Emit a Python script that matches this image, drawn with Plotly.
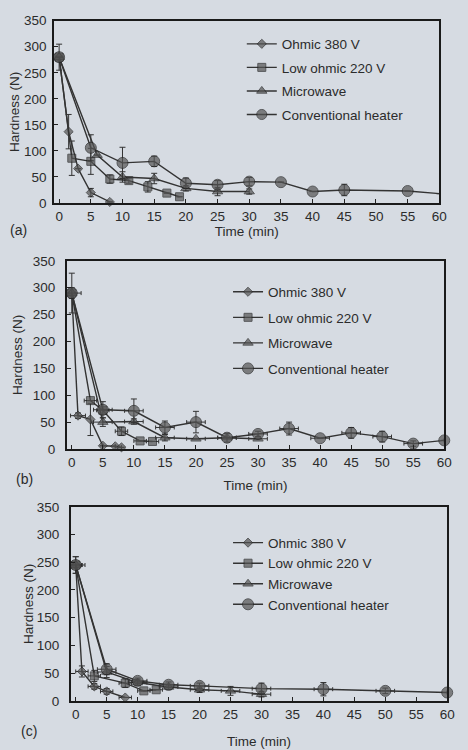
import plotly.graph_objects as go

# ---------------- Data ----------------
series_names = ["Ohmic 380 V", "Low ohmic 220 V", "Microwave", "Conventional heater"]
x_ticks = [0, 5, 10, 15, 20, 25, 30, 35, 40, 45, 50, 55, 60]
y_ticks = [0, 50, 100, 150, 200, 250, 300, 350]
panel_labels = ["(a)", "(b)", "(c)"]

# Panel (a)
a_ohmic_t = [0, 1.5, 3, 5, 8]
a_ohmic_y = [280, 137, 66, 20, 2]
a_ohmic_e = [25, 33, 0, 8, 0]
a_low_t = [0, 2, 5, 8, 11, 14, 17, 19]
a_low_y = [280, 86, 80, 46, 43, 31, 19, 12]
a_low_e = [0, 33, 25, 8, 5, 10, 0, 0]
a_mw_t = [0, 6, 10, 15, 20, 25, 30]
a_mw_y = [280, 92, 50, 47, 28, 22, 22]
a_mw_e = [0, 0, 10, 10, 5, 8, 5]
a_conv_t = [0, 5, 10, 15, 20, 25, 30, 35, 40, 45, 55, 60]
a_conv_y = [280, 106, 77, 80, 38, 35, 41, 40, 22, 25, 23, 18]
a_conv_e = [0, 25, 30, 10, 10, 8, 8, 0, 0, 11, 0, 0]

# Panel (b)
b_ohmic_t = [0, 1, 3, 5, 7, 8]
b_ohmic_y = [290, 62, 55, 6, 5, 3]
b_ohmic_e = [37, 5, 30, 0, 0, 0]
b_ohmic_ex = [0, 1.2, 0, 0, 0, 0]
b_low_t = [0, 3, 5, 8, 11, 13]
b_low_y = [290, 90, 72, 33, 15, 14]
b_low_e = [0, 0, 0, 8, 0, 0]
b_low_ex = [0, 1, 1, 1, 1, 1]
b_mw_t = [0, 5, 10, 15, 20, 25, 30]
b_mw_y = [290, 50, 51, 21, 19, 21, 19]
b_mw_e = [0, 8, 5, 6, 0, 0, 0]
b_mw_ex = [0, 1.5, 1.5, 1.5, 1.5, 1.5, 1.5]
b_conv_t = [0, 5, 10, 15, 20, 25, 30, 35, 40, 45, 50, 55, 60]
b_conv_y = [290, 73, 71, 40, 50, 21, 28, 38, 20, 30, 23, 10, 16]
b_conv_e = [10, 15, 22, 12, 20, 8, 5, 12, 0, 10, 10, 5, 0]
b_conv_ex = [1.5, 1.5, 1.5, 1.5, 1.5, 1.5, 1.5, 1.5, 1.5, 1.5, 1.5, 1.5, 0]

# Panel (c)
c_ohmic_t = [0, 1, 3, 5, 8]
c_ohmic_y = [245, 53, 26, 17, 6]
c_ohmic_e = [15, 10, 5, 5, 0]
c_ohmic_ex = [1, 1, 1, 1, 1]
c_low_t = [0, 3, 8, 11, 13]
c_low_y = [245, 45, 32, 18, 20]
c_low_e = [0, 10, 8, 0, 0]
c_low_ex = [1, 1, 1, 1, 1]
c_mw_t = [0, 5, 10, 15, 20, 25, 30]
c_mw_y = [245, 52, 33, 25, 20, 18, 12]
c_mw_e = [0, 10, 5, 5, 5, 8, 5]
c_mw_ex = [1.5, 1.5, 1.5, 1.5, 1.5, 1.5, 1.5]
c_conv_t = [0, 5, 10, 15, 20, 30, 40, 50, 60]
c_conv_y = [245, 57, 36, 29, 27, 22, 21, 18, 15]
c_conv_e = [15, 10, 5, 5, 5, 10, 12, 5, 0]
c_conv_ex = [1, 1.5, 1.5, 1.5, 1.5, 1.5, 1.5, 1.5, 0]

panels = [
    [(a_ohmic_t, a_ohmic_y, a_ohmic_e, None),
     (a_low_t, a_low_y, a_low_e, None),
     (a_mw_t, a_mw_y, a_mw_e, None),
     (a_conv_t, a_conv_y, a_conv_e, None)],
    [(b_ohmic_t, b_ohmic_y, b_ohmic_e, b_ohmic_ex),
     (b_low_t, b_low_y, b_low_e, b_low_ex),
     (b_mw_t, b_mw_y, b_mw_e, b_mw_ex),
     (b_conv_t, b_conv_y, b_conv_e, b_conv_ex)],
    [(c_ohmic_t, c_ohmic_y, c_ohmic_e, c_ohmic_ex),
     (c_low_t, c_low_y, c_low_e, c_low_ex),
     (c_mw_t, c_mw_y, c_mw_e, c_mw_ex),
     (c_conv_t, c_conv_y, c_conv_e, c_conv_ex)],
]

# ---------------- Layout geometry (pixels) ----------------
W, H = 468, 750
BG = "#d6dbe2"
INK = "#2b2b2b"
FONT = "Liberation Sans, Arial, sans-serif"
FS = 13.5

# plot area boxes: (left, right, top, bottom) in px
boxes = [(55, 447, 14, 200), (68, 452, 259, 451), (72, 455, 510, 708)]
legend_pos = [(246, 22, 3), (232, 275, 5), (232, 531, 0)]  # x, top, group gap
panel_label_pos = [(19, 228), (25, 482), (29, 739)]
ylab_standoff = [(3, 1), (7, 7), (7, 0)]   # (ticklabelstandoff, title standoff)
xtitle_standoff = [0, 12, 16]

symbols = ["diamond", "square", "triangle-up", "circle"]
sizes = [7, 8, 9, 11]

fig = go.Figure()

for p, series in enumerate(panels):
    xa = "x" if p == 0 else f"x{p+1}"
    ya = "y" if p == 0 else f"y{p+1}"
    lg = "legend" if p == 0 else f"legend{p+1}"
    for s, (t, y, e, ex) in enumerate(series):
        msize = [sizes[s]] * len(t)
        if p == 0 and s == 3:
            msize[-1] = 0
        tr = dict(
            x=t, y=y, mode="lines+markers", name=series_names[s],
            xaxis=xa, yaxis=ya, legend=lg, legendgroup=f"{p}-{s}",
            line=dict(color="#333333", width=1.4),
            marker=dict(symbol=symbols[s], size=msize, color="#555555",
                        line=dict(color="#222222", width=1)),
            error_y=dict(type="data", array=e, visible=True, color="#333333",
                         thickness=1, width=3),
            cliponaxis=False,
        )
        if ex is not None:
            tr["error_x"] = dict(type="data", array=ex, visible=True, color="#333333",
                                 thickness=1, width=2)
        fig.add_trace(go.Scatter(**tr))

layout = dict(
    width=W, height=H,
    margin=dict(l=0, r=0, t=0, b=0),
    paper_bgcolor=BG, plot_bgcolor=BG,
    font=dict(family=FONT, size=FS, color=INK),
    showlegend=True,
)

annotations = []
for p, (l, r, t, b) in enumerate(boxes):
    xk = "xaxis" if p == 0 else f"xaxis{p+1}"
    yk = "yaxis" if p == 0 else f"yaxis{p+1}"
    yref = "y" if p == 0 else f"y{p+1}"
    xref = "x" if p == 0 else f"x{p+1}"
    tls, tst = ylab_standoff[p]
    layout[xk] = dict(
        domain=[l / W, r / W], anchor=yref, range=[-0.8, 60],
        tickvals=x_ticks, ticktext=[str(v) for v in x_ticks],
        ticks="inside", ticklen=4, tickcolor="#222", tickwidth=1,
        showline=True, linecolor="#1a1a1a", linewidth=1.6, mirror=True,
        showgrid=False, zeroline=False,
        tickfont=dict(size=FS, color=INK),
        title=dict(text="Time (min)", font=dict(size=FS, color=INK),
                   standoff=xtitle_standoff[p]),
    )
    layout[yk] = dict(
        domain=[1 - b / H, 1 - t / H], anchor=xref, range=[0, 350],
        tickvals=y_ticks, ticks="inside", ticklen=4, tickcolor="#222", tickwidth=1,
        showline=True, linecolor="#1a1a1a", linewidth=1.6, mirror=True,
        showgrid=False, zeroline=False, ticklabelstandoff=tls,
        tickfont=dict(size=FS, color=INK),
        title=dict(text="Hardness (N)", font=dict(size=FS, color=INK), standoff=tst),
    )
    lk = "legend" if p == 0 else f"legend{p+1}"
    lx, ltop, gap = legend_pos[p]
    layout[lk] = dict(
        x=lx / W, y=1 - ltop / H, xanchor="left", yanchor="top",
        bgcolor="rgba(0,0,0,0)", borderwidth=0,
        font=dict(size=FS, color=INK), tracegroupgap=gap,
        traceorder="grouped",
    )
    px_, py_ = panel_label_pos[p]
    annotations.append(dict(
        text=panel_labels[p], x=px_ / W, y=1 - py_ / H, xref="paper", yref="paper",
        showarrow=False, font=dict(size=14, color=INK), xanchor="center", yanchor="middle",
    ))

layout["annotations"] = annotations
fig.update_layout(**layout)
fig.write_html(
    "out.html",
    config={"displayModeBar": False},
    post_script=(
        "document.body.style.margin='0';"
        "document.body.style.background='" + BG + "';"
        "document.documentElement.style.background='" + BG + "';"
    ),
)
